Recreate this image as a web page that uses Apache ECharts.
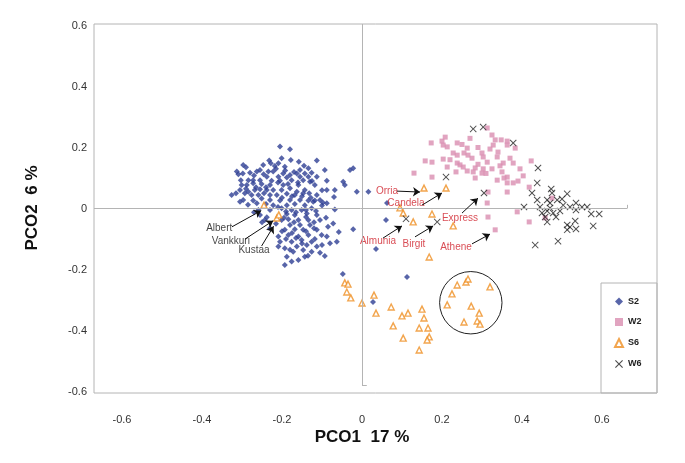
<!DOCTYPE html>
<html><head><meta charset="utf-8">
<script src="https://cdn.jsdelivr.net/npm/echarts@6/dist/echarts.min.js"></script>
<style>html,body{margin:0;padding:0;background:#fff}#c{width:685px;height:463px}</style>
</head><body><div id="c"></div>
<script>
const seriesNames = ['S2', 'W2', 'S6', 'W6'];
const s2 = [[-0.205,0.203],[-0.18,0.194],[-0.201,0.165],[-0.232,0.157],[-0.228,0.148],[-0.209,0.148],[-0.178,0.159],[-0.158,0.153],[-0.113,0.157],[-0.247,0.143],[-0.218,0.139],[-0.297,0.143],[-0.193,0.137],[-0.155,0.126],[-0.134,0.132],[-0.093,0.126],[-0.03,0.126],[-0.022,0.132],[-0.313,0.121],[-0.309,0.112],[-0.298,0.115],[-0.28,0.117],[-0.263,0.121],[-0.255,0.126],[-0.234,0.121],[-0.222,0.121],[-0.197,0.115],[-0.18,0.11],[-0.163,0.115],[-0.143,0.115],[-0.126,0.117],[-0.238,0.104],[-0.209,0.104],[-0.188,0.102],[-0.155,0.104],[-0.134,0.104],[-0.113,0.104],[-0.303,0.093],[-0.284,0.093],[-0.272,0.093],[-0.255,0.093],[-0.226,0.091],[-0.205,0.091],[-0.176,0.093],[-0.147,0.093],[-0.13,0.088],[-0.088,0.091],[-0.047,0.088],[-0.043,0.077],[-0.301,0.077],[-0.288,0.077],[-0.272,0.083],[-0.251,0.08],[-0.23,0.077],[-0.197,0.077],[-0.159,0.077],[-0.118,0.077],[-0.305,0.061],[-0.284,0.055],[-0.268,0.061],[-0.255,0.063],[-0.238,0.061],[-0.222,0.061],[-0.201,0.061],[-0.18,0.066],[-0.163,0.055],[-0.143,0.061],[-0.088,0.061],[-0.068,0.061],[-0.013,0.055],[0.016,0.055],[-0.326,0.044],[-0.293,0.05],[-0.276,0.044],[-0.259,0.044],[-0.23,0.044],[-0.213,0.044],[-0.188,0.048],[-0.168,0.044],[-0.147,0.05],[-0.132,0.05],[-0.113,0.044],[-0.297,0.028],[-0.272,0.026],[-0.251,0.033],[-0.23,0.028],[-0.205,0.026],[-0.18,0.028],[-0.155,0.028],[-0.134,0.026],[-0.118,0.026],[-0.105,0.028],[-0.305,0.022],[-0.263,0.017],[-0.222,0.011],[-0.188,0.011],[-0.168,0.015],[-0.143,0.011],[-0.122,0.022],[-0.088,0.017],[-0.259,-0.005],[-0.23,-0.005],[-0.201,0.001],[-0.176,-0.005],[-0.151,-0.005],[-0.126,0.001],[-0.068,-0.003],[-0.255,-0.021],[-0.238,-0.029],[-0.188,-0.018],[-0.168,-0.021],[-0.138,-0.016],[-0.113,-0.021],[-0.243,-0.038],[-0.201,-0.038],[-0.184,-0.035],[-0.159,-0.038],[-0.134,-0.038],[-0.105,-0.038],[-0.18,-0.054],[-0.155,-0.054],[-0.13,-0.054],[-0.072,-0.049],[-0.193,-0.07],[-0.168,-0.068],[-0.147,-0.07],[-0.113,-0.07],[-0.022,-0.068],[-0.209,-0.092],[-0.184,-0.087],[-0.159,-0.092],[-0.134,-0.087],[-0.101,-0.087],[-0.088,-0.092],[-0.205,-0.109],[-0.176,-0.109],[-0.151,-0.103],[-0.126,-0.109],[-0.08,-0.114],[-0.063,-0.109],[-0.209,-0.125],[-0.193,-0.13],[-0.163,-0.125],[-0.138,-0.12],[-0.113,-0.125],[-0.172,-0.142],[-0.147,-0.136],[-0.126,-0.142],[-0.105,-0.145],[-0.188,-0.158],[-0.143,-0.158],[-0.093,-0.156],[-0.176,-0.174],[-0.159,-0.169],[-0.193,-0.185],
[-0.29,0.135],[-0.27,0.108],[-0.246,0.112],[-0.215,0.13],[-0.192,0.125],[-0.17,0.12],[-0.145,0.14],[-0.125,0.09],[-0.16,0.085],[-0.185,0.08],[-0.21,0.085],[-0.24,0.07],[-0.265,0.07],[-0.29,0.065],[-0.315,0.05],[-0.245,0.05],[-0.2,0.035],[-0.175,0.04],[-0.15,0.04],[-0.128,0.035],[-0.1,0.06],[-0.1,0.01],[-0.285,0.012],[-0.24,0.015],[-0.21,0.005],[-0.19,-0.01],[-0.165,-0.012],[-0.14,-0.005],[-0.115,-0.008],[-0.27,-0.012],[-0.25,-0.045],[-0.215,-0.05],[-0.195,-0.03],[-0.17,-0.045],[-0.14,-0.028],[-0.12,-0.045],[-0.09,-0.03],[-0.23,-0.065],[-0.2,-0.075],[-0.175,-0.08],[-0.14,-0.075],[-0.12,-0.065],[-0.085,-0.06],[-0.19,-0.1],[-0.165,-0.097],[-0.118,-0.1],[-0.15,-0.115],[-0.18,-0.135],[-0.1,-0.12],[-0.135,-0.155],
[-0.07,0.038],[-0.058,-0.077],[0.035,-0.133],[-0.048,-0.215],[0.1125,-0.225],[0.0275,-0.307],[0.0625,0.018],[0.06,-0.038],[-0.098,0.02]];
const w2 = [[0.158,0.156],[0.173,0.215],[0.175,0.152],[0.13,0.116],[0.175,0.103],[0.2,0.221],[0.208,0.234],[0.203,0.208],[0.213,0.202],[0.203,0.162],[0.213,0.136],[0.228,0.182],[0.238,0.175],[0.238,0.149],[0.245,0.143],[0.235,0.12],[0.255,0.182],[0.263,0.198],[0.253,0.136],[0.263,0.123],[0.265,0.175],[0.313,0.264],[0.325,0.241],[0.328,0.208],[0.348,0.225],[0.363,0.221],[0.383,0.198],[0.34,0.185],[0.3,0.182],[0.303,0.169],[0.313,0.152],[0.338,0.169],[0.353,0.149],[0.378,0.149],[0.283,0.133],[0.303,0.13],[0.3,0.116],[0.278,0.12],[0.283,0.1],[0.363,0.103],[0.403,0.107],[0.423,0.156],[0.338,0.093],[0.363,0.084],[0.378,0.084],[0.418,0.07],[0.363,0.054],[0.315,0.054],[0.313,0.018],[0.475,0.034],[0.388,-0.011],[0.315,-0.028],[0.418,-0.044],[0.458,-0.031],[0.333,-0.07],[0.238,0.215],[0.333,0.225],[0.363,0.208],[0.29,0.2],[0.275,0.165],[0.32,0.195],[0.345,0.14],[0.29,0.145],[0.31,0.115],[0.325,0.13],[0.35,0.12],[0.37,0.165],[0.22,0.16],[0.25,0.21],[0.395,0.13],[0.355,0.1],[0.39,0.09],[0.27,0.23]];
const s6 = [[0.155,0.067],[0.21,0.067],[0.095,0.002],[0.103,-0.015],[0.128,-0.044],[0.175,-0.018],[0.228,-0.057],[0.168,-0.159],[-0.043,-0.244],[-0.035,-0.248],[-0.038,-0.274],[-0.028,-0.293],[0.0,-0.31],[0.03,-0.284],[0.035,-0.343],[0.073,-0.323],[0.1,-0.352],[0.115,-0.343],[0.15,-0.33],[0.155,-0.359],[0.078,-0.385],[0.143,-0.392],[0.165,-0.392],[0.103,-0.425],[0.168,-0.421],[0.163,-0.431],[0.143,-0.464],[0.238,-0.251],[0.26,-0.241],[0.265,-0.231],[0.32,-0.257],[0.225,-0.28],[0.213,-0.316],[0.273,-0.32],[0.293,-0.343],[0.255,-0.372],[0.288,-0.369],[0.295,-0.379],[-0.245,0.011],[-0.213,-0.031],[-0.208,-0.021]];
const w6 = [[0.278,0.261],[0.303,0.267],[0.378,0.215],[0.21,0.103],[0.305,0.051],[0.11,-0.034],[0.188,-0.044],[0.44,0.133],[0.438,0.084],[0.425,0.051],[0.473,0.064],[0.475,0.051],[0.513,0.048],[0.405,0.005],[0.438,0.028],[0.445,0.005],[0.463,0.028],[0.47,0.018],[0.488,0.028],[0.5,0.031],[0.503,0.011],[0.52,0.005],[0.535,0.018],[0.535,-0.005],[0.55,0.005],[0.563,0.005],[0.573,-0.018],[0.593,-0.018],[0.45,-0.015],[0.463,-0.008],[0.478,-0.015],[0.485,-0.028],[0.463,-0.044],[0.513,-0.054],[0.52,-0.061],[0.535,-0.067],[0.533,-0.041],[0.513,-0.07],[0.578,-0.057],[0.433,-0.12],[0.49,-0.107],[0.47,0.002],[0.495,-0.008],[0.458,-0.028]];
const xTicks = [-0.6, -0.4, -0.2, 0, 0.2, 0.4, 0.6];
const yTicks = [-0.6, -0.4, -0.2, 0, 0.2, 0.4, 0.6];
const redNames = ['Orria', 'Candela', 'Almunia', 'Birgit', 'Express', 'Athene'];
const redLabelPos = [[0.0625,0.057],[0.11,0.018],[0.04,-0.107],[0.13,-0.116],[0.245,-0.031],[0.235,-0.126]];
const redArrowFrom = [[0.0875,0.057],[0.15,0.011],[0.0525,-0.097],[0.1325,-0.093],[0.25,-0.015],[0.275,-0.116]];
const redArrowTo = [[0.145,0.054],[0.2,0.051],[0.1,-0.057],[0.178,-0.057],[0.29,0.034],[0.32,-0.084]];
const blackNames = ['Albert', 'Vankkuri', 'Kustaa'];
const blackLabelPos = [[-0.357,-0.064],[-0.328,-0.106],[-0.27,-0.136]];
const blackArrowFrom = [[-0.325,-0.06],[-0.292,-0.1],[-0.251,-0.123]];
const blackArrowTo = [[-0.252,-0.007],[-0.222,-0.04],[-0.221,-0.058]];
const circleCenter = [0.272, -0.309];
const circleRadius = 0.078;

const FONT = 'Liberation Sans, Arial, sans-serif';
const chart = echarts.init(document.getElementById('c'));
const xMin = -0.67, xMax = 0.7375, yMin = -0.605, yMax = 0.605;
const crossX = 0.6625, crossYBottom = -0.58;

const arrowLines = (from, to) => from.map((f, i) => [{coord: f}, {coord: to[i]}]);
const xSym = 'path://M0,1L1,0L5,4L9,0L10,1L6,5L10,9L9,10L5,6L1,10L0,9L4,5Z';

chart.setOption({
  animation: false,
  backgroundColor: '#fff',
  grid: {left: 94, top: 24, width: 563, height: 369, show: true, borderColor: '#b4b4b4', borderWidth: 1, containLabel: false},
  xAxis: {type: 'value', min: xMin, max: xMax, position: 'bottom',
    axisLine: {show: false}, axisTick: {show: false}, splitLine: {show: false},
    axisLabel: {customValues: xTicks, margin: 21, fontSize: 11, color: '#333', fontFamily: FONT, formatter: v => String(v)}},
  yAxis: {type: 'value', min: yMin, max: yMax,
    axisLine: {show: false}, axisTick: {show: false}, splitLine: {show: false},
    axisLabel: {customValues: yTicks, margin: 7, fontSize: 11, color: '#333', fontFamily: FONT, formatter: v => String(v)}},
  legend: {
    data: seriesNames, orient: 'vertical', left: 609, top: 292, itemWidth: 8, itemHeight: 8, itemGap: 11.5,
    textStyle: {fontSize: 9, fontWeight: 'bold', color: '#222', fontFamily: FONT}, selectedMode: false
  },
  series: [
    {type: 'scatter', name: 'axes', data: [], silent: true,
      markLine: {silent: true, symbol: 'none', label: {show: false}, lineStyle: {color: '#b4b4b4', width: 1, type: 'solid'},
        data: [
          [{coord: [xMin, 0]}, {coord: [crossX, 0]}],
          [{coord: [crossX, 0]}, {coord: [crossX, 0.012]}],
          [{coord: [0, yMax]}, {coord: [0, crossYBottom]}],
          [{coord: [0, crossYBottom]}, {coord: [0.012, crossYBottom]}]
        ]}},
    {type: 'scatter', name: 'S2', data: s2, symbol: 'diamond', symbolSize: 6, itemStyle: {color: '#2e3f93'}},
    {type: 'scatter', name: 'W2', data: w2, symbol: 'rect', symbolSize: 5, itemStyle: {color: '#d98db0'}},
    {type: 'scatter', name: 'S6', data: s6, symbol: 'triangle', symbolSize: 6, itemStyle: {color: '#fff', borderColor: '#ef8f22', borderWidth: 1.4}},
    {type: 'scatter', name: 'W6', data: w6, symbol: xSym, symbolSize: 7, itemStyle: {color: '#222'}},
    {type: 'scatter', name: 'redLabels', data: redLabelPos.map((p, i) => ({value: p, name: redNames[i]})),
      symbolSize: 1, itemStyle: {color: 'rgba(0,0,0,0)'}, silent: true,
      label: {show: true, position: 'inside', formatter: '{b}', color: '#d0202a', textBorderWidth: 0, fontSize: 10, fontFamily: FONT},
      markLine: {silent: true, symbol: ['none', 'arrow'], symbolSize: 7, label: {show: false},
        lineStyle: {color: '#111', width: 1, type: 'solid'}, data: arrowLines(redArrowFrom, redArrowTo)}},
    {type: 'scatter', name: 'blackLabels', data: blackLabelPos.map((p, i) => ({value: p, name: blackNames[i]})),
      symbolSize: 1, itemStyle: {color: 'rgba(0,0,0,0)'}, silent: true,
      label: {show: true, position: 'inside', formatter: '{b}', color: '#111', textBorderWidth: 0, fontSize: 10, fontFamily: FONT},
      markLine: {silent: true, symbol: ['none', 'arrow'], symbolSize: 7, label: {show: false},
        lineStyle: {color: '#111', width: 1, type: 'solid'}, data: arrowLines(blackArrowFrom, blackArrowTo)}}
  ]
});

const c = chart.convertToPixel({gridIndex: 0}, circleCenter);
const e = chart.convertToPixel({gridIndex: 0}, [circleCenter[0] + circleRadius, circleCenter[1]]);
const r = Math.abs(e[0] - c[0]);
chart.setOption({
  graphic: [
    {type: 'circle', shape: {cx: c[0], cy: c[1], r: r}, style: {fill: 'none', stroke: '#222', lineWidth: 1}, silent: true},
    {type: 'rect', shape: {x: 601, y: 283, width: 56, height: 110}, style: {fill: 'none', stroke: '#b4b4b4', lineWidth: 1}, silent: true},
    {type: 'text', x: 362, y: 437, style: {text: 'PCO1  17 %', font: 'bold 17px ' + FONT, fill: '#111', textAlign: 'center', textVerticalAlign: 'middle'}},
    {type: 'text', x: 32, y: 208, rotation: Math.PI / 2, style: {text: 'PCO2  6 %', font: 'bold 17px ' + FONT, fill: '#111', textAlign: 'center', textVerticalAlign: 'middle'}}
  ]
});
</script>
</body></html>
